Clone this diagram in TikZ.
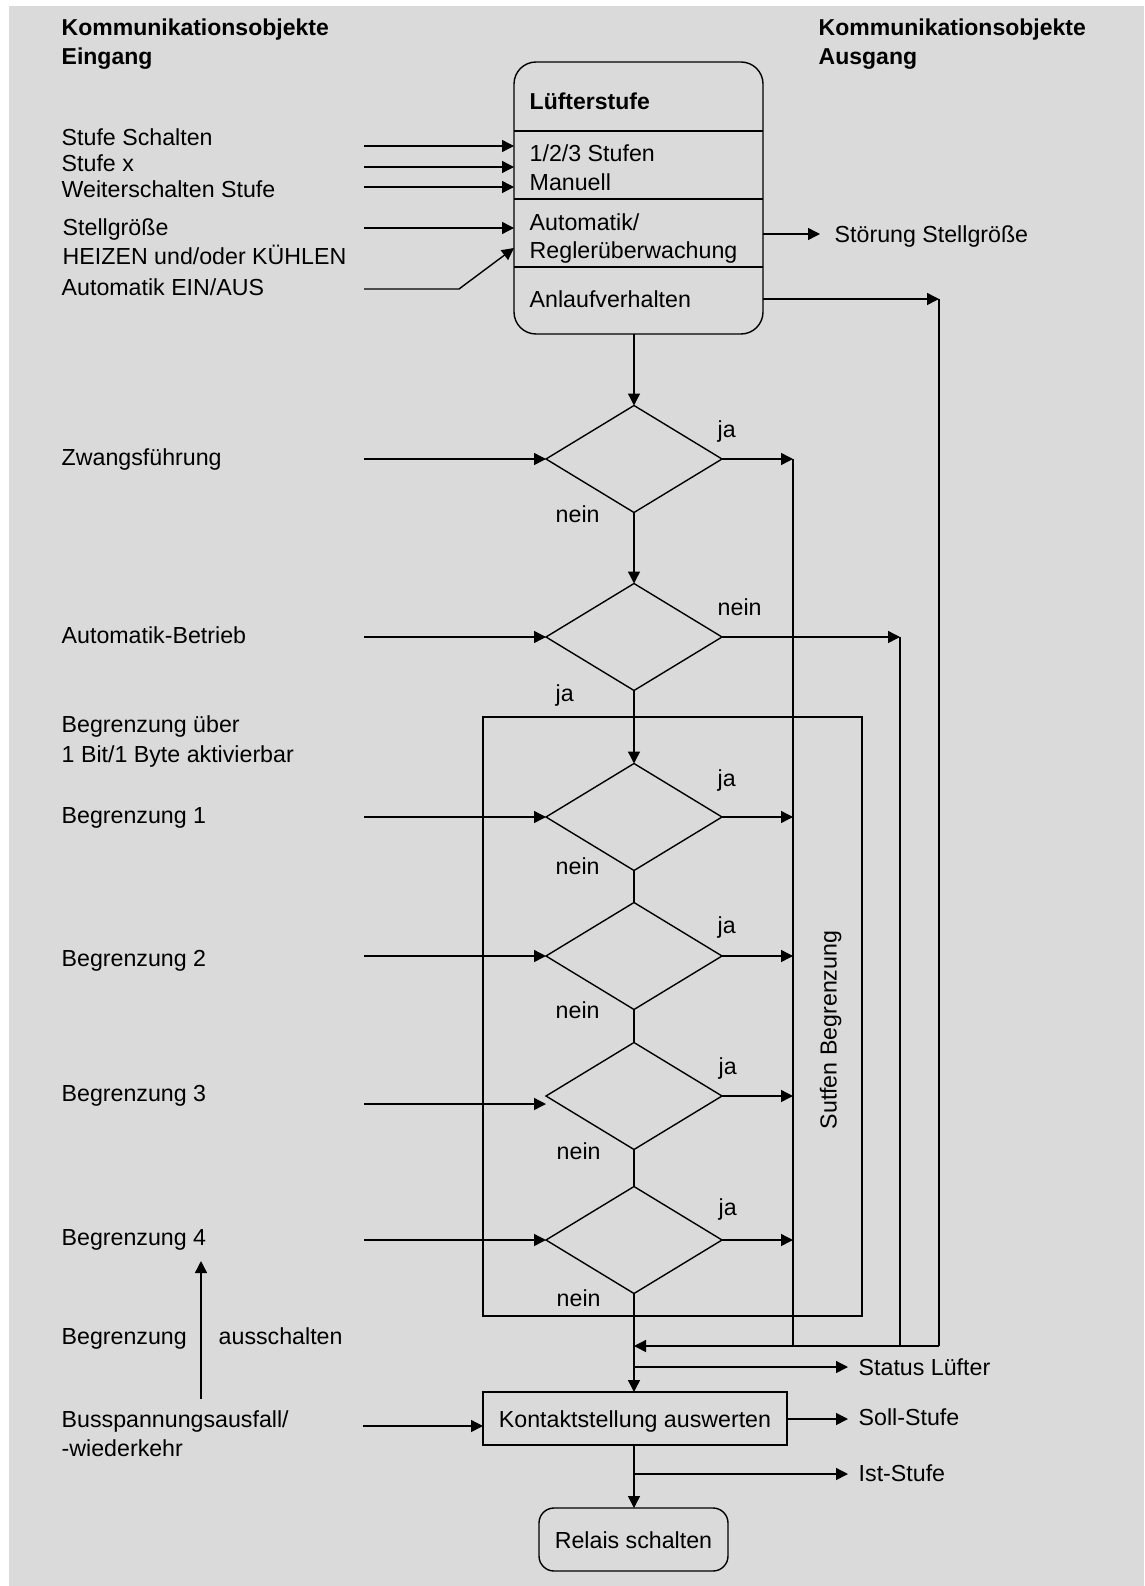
\documentclass[tikz,border=0pt]{standalone}
\usepackage{fontspec}
\setmainfont{Liberation Sans}
\usetikzlibrary{arrows.meta,shapes.geometric}
\definecolor{bg}{HTML}{DADADA}
\newcommand\fsz{\fontsize{23.2}{27}\selectfont}
\begin{document}
\begin{tikzpicture}[x=1pt,y=-1pt,line width=1.4pt,
  >={Triangle[length=12pt,width=12pt]},
  txt/.style={anchor=west,inner sep=0pt,text height=17pt,text depth=0pt,font=\fsz},
  btxt/.style={anchor=west,inner sep=0pt,text height=17pt,text depth=0pt,font=\fontsize{23}{27}\selectfont\bfseries},
  dia/.style={draw,diamond,minimum width=176pt,minimum height=107pt,inner sep=0pt,outer sep=0pt},
  boxn/.style={draw,rectangle,inner sep=0pt,outer sep=0pt,anchor=north west},
  boxt/.style={boxn,font=\fsz,text height=17pt,text depth=0pt}]
\useasboundingbox (0,0) rectangle (1144,1586);
\fill[bg] (9,6) rectangle (1144,1586);

% headers
\node[btxt] (hl1) at (61,27) {Kommunikationsobjekte};
\node[btxt] (hl2) at (61,56) {Eingang};
\node[btxt] (hr1) at (818,27) {Kommunikationsobjekte};
\node[btxt] (hr2) at (818,56) {Ausgang};

% main box
\node[boxn,rounded corners=22pt,minimum width=249pt,minimum height=272pt] (lbox) at (514,62) {};
\draw (lbox.west |- 0,131) -- (lbox.east |- 0,131);
\draw (lbox.west |- 0,199) -- (lbox.east |- 0,199);
\draw (lbox.west |- 0,267) -- (lbox.east |- 0,267);
\node[btxt] (b0) at (529,101) {Lüfterstufe};
\node[txt] (b1) at (529,153) {1/2/3 Stufen};
\node[txt] (b2) at (529,182) {Manuell};
\node[txt] (b3) at (529,222) {Automatik/};
\node[txt] (b4) at (529,250) {Reglerüberwachung};
\node[txt] (b5) at (529,299) {Anlaufverhalten};

% left texts
\node[txt] (t1) at (61,137) {Stufe Schalten};
\node[txt] (t2) at (61,163) {Stufe x};
\node[txt] (t3) at (61,189) {Weiterschalten Stufe};
\node[txt] (t4) at (62,227) {Stellgröße};
\node[txt] (t5) at (62,256) {HEIZEN und/oder KÜHLEN};
\node[txt] (t6) at (61,287) {Automatik EIN/AUS};
\node[txt] (t7) at (61,457) {Zwangsführung};
\node[txt] (t8) at (61,635) {Automatik-Betrieb};
\node[txt] (t9) at (61,724) {Begrenzung über};
\node[txt] (t10) at (61,754) {1 Bit/1 Byte aktivierbar};
\node[txt] (t11) at (61,815) {Begrenzung 1};
\node[txt] (t12) at (61,958) {Begrenzung 2};
\node[txt] (t13) at (61,1093) {Begrenzung 3};
\node[txt] (t14) at (61,1237) {Begrenzung 4};
\node[txt] (t15) at (61,1336) {Begrenzung};
\node[txt] (t16) at (218,1336) {ausschalten};
\node[txt] (t17) at (61,1419) {Busspannungsausfall/};
\node[txt] (t18) at (61,1448) {-wiederkehr};

% inputs to main box
\coordinate (i1) at (364,146);
\coordinate (i2) at (364,167);
\coordinate (i3) at (364,187);
\coordinate (i4) at (364,228);
\coordinate (i5) at (364,289);
\coordinate (i5k) at (459,289);
\draw[->] (i1) -- (i1 -| lbox.west);
\draw[->] (i2) -- (i2 -| lbox.west);
\draw[->] (i3) -- (i3 -| lbox.west);
\draw[->] (i4) -- (i4 -| lbox.west);
\draw[->] (i5) -- (i5k) -- (lbox.west |- 0,248);

% outputs of main box
\coordinate (o1) at (820,234);
\node[txt] (stoer) at (834,234) {Störung Stellgröße};
\draw[->] (lbox.east |- o1) -- (o1);
\coordinate (ca) at (939,299);
\coordinate (cab) at (939,1346);
\draw[->] (lbox.east |- ca) -- (ca);
\draw (ca) -- (cab);

% group rectangle
\node[boxn,minimum width=379pt,minimum height=599pt] (grp) at (483,717) {};

% diamonds
\node[dia] (d1) at (634,459) {};
\node[dia] (d2) at (634,637) {};
\node[dia] (d3) at (634,817) {};
\node[dia] (d4) at (634,956) {};
\node[dia] (d5) at (634,1096) {};
\node[dia] (d6) at (634,1240) {};

\draw[->] (d1.north |- lbox.south) -- (d1.north);
\draw[->] (d1.south) -- (d2.north);
\draw[->] (d2.south) -- (d3.north);
\draw (d3.south) -- (d4.north);
\draw (d4.south) -- (d5.north);
\draw (d5.south) -- (d6.north);

% diamond inputs
\coordinate (z1) at (364,459);
\coordinate (z2) at (364,637);
\coordinate (z3) at (364,817);
\coordinate (z4) at (364,956);
\coordinate (z5) at (364,1104);
\coordinate (z6) at (364,1240);
\draw[->] (z1) -- (d1.west);
\draw[->] (z2) -- (d2.west);
\draw[->] (z3) -- (d3.west);
\draw[->] (z4) -- (d4.west);
\draw[->] (z5) -- (z5 -| d5.west);
\draw[->] (z6) -- (d6.west);

% diamond outputs
\coordinate (r1) at (793,459);
\coordinate (r1b) at (793,1346);
\coordinate (r2) at (900,637);
\coordinate (r2b) at (900,1346);
\draw[->] (d1.east) -- (r1);
\draw (r1) -- (r1b);
\draw[->] (d2.east) -- (r2);
\draw (r2) -- (r2b);
\draw[->] (d3.east) -- (d3.east -| r1);
\draw[->] (d4.east) -- (d4.east -| r1);
\draw[->] (d5.east) -- (d5.east -| r1);
\draw[->] (d6.east) -- (d6.east -| r1);

% ja / nein labels
\node[txt] (j1) at (717,429) {ja};
\node[txt] (n1) at (555,514) {nein};
\node[txt] (n2) at (717,607) {nein};
\node[txt] (j2) at (555,693) {ja};
\node[txt] (j3) at (717,778) {ja};
\node[txt] (n3) at (555,866) {nein};
\node[txt] (j4) at (717,925) {ja};
\node[txt] (n4) at (555,1010) {nein};
\node[txt] (j5) at (718,1066) {ja};
\node[txt] (n5) at (556,1151) {nein};
\node[txt] (j6) at (718,1207) {ja};
\node[txt] (n6) at (556,1298) {nein};

\node[rotate=90,inner sep=0pt,text height=17pt,text depth=0pt,font=\fsz] (sb) at (828,1030) {Sutfen Begrenzung};

% bottom part
\node[boxt,minimum width=304pt,minimum height=53pt] (kont) at (483,1392) {Kontaktstellung auswerten};
\node[boxt,rounded corners=15pt,minimum width=189pt,minimum height=63pt] (rel) at (539,1508) {Relais schalten};

\coordinate (m) at (634,1346);
\draw[->] (cab) -- (m);
\draw[->] (d6.south) -- (d6.south |- kont.north);

\coordinate (s0) at (634,1367);
\coordinate (s1) at (848,1367);
\draw[->] (s0) -- (s1);
\node[txt] (stat) at (858,1367) {Status Lüfter};

\coordinate (so1) at (848,1419);
\draw[->] (kont.east |- so1) -- (so1);
\node[txt] (soll) at (858,1417) {Soll-Stufe};

\coordinate (is0) at (634,1474);
\coordinate (is1) at (848,1474);
\draw[->] (is0) -- (is1);
\node[txt] (ist) at (858,1473) {Ist-Stufe};

\draw[->] (kont.south -| d6.south) -- (rel.north -| d6.south);

\coordinate (bu) at (363,1426);
\draw[->] (bu) -- (bu -| kont.west);

\coordinate (ba) at (201,1399);
\coordinate (bb) at (201,1261);
\draw[->] (ba) -- (bb);
\end{tikzpicture}
\end{document}
